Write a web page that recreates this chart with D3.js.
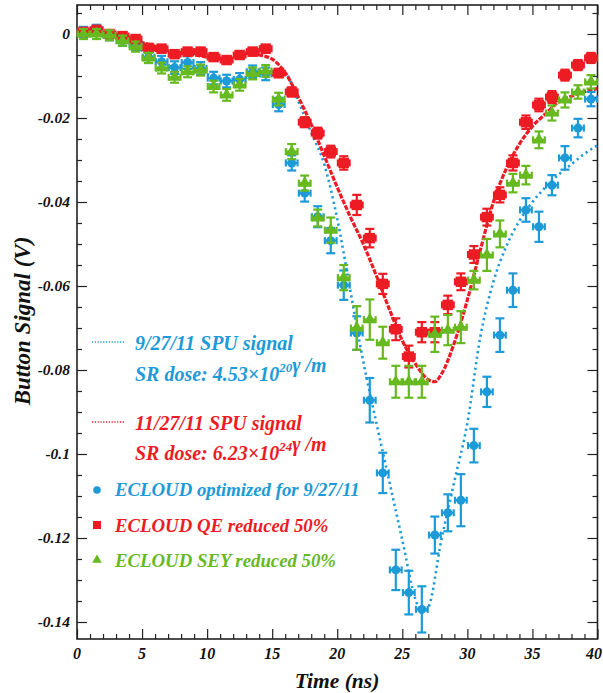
<!DOCTYPE html>
<html>
<head>
<meta charset="utf-8">
<script src="https://cdn.jsdelivr.net/npm/d3@7"></script>
<style>
  html, body { margin: 0; padding: 0; background: #fff; }
  svg { display: block; }
  text { font-family: "Liberation Serif", "Times New Roman", serif; font-style: italic; font-weight: bold; }
</style>
</head>
<body>
<svg id="chart" width="603" height="693"></svg>
<script>
// Sample times (ns) of the ECLOUD simulation points
const simTimes = [0.5, 1.5, 2.5, 3.5, 4.5, 5.5, 6.5, 7.5, 8.5, 9.5,
  10.5, 11.5, 12.5, 13.5, 14.5, 15.5, 16.5, 17.5, 18.5, 19.5,
  20.5, 21.5, 22.5, 23.5, 24.5, 25.5, 26.5, 27.5, 28.5, 29.5,
  30.5, 31.5, 32.5, 33.5, 34.5, 35.5, 36.5, 37.5, 38.5, 39.5];

// ECLOUD optimized for 9/27/11 (V) and its uncertainty
const ecloudOpt = [0.0005, 0.0010, -0.0003, -0.0015, -0.0025, -0.0055, -0.0066, -0.0080, -0.0068, -0.0082,
  -0.0105, -0.0112, -0.0108, -0.0090, -0.0095, -0.0168, -0.0307, -0.0379, -0.0435, -0.0492,
  -0.0598, -0.0712, -0.0872, -0.1045, -0.1276, -0.1330, -0.1370, -0.1193, -0.1140, -0.1110,
  -0.0980, -0.0852, -0.0717, -0.0610, -0.0419, -0.0459, -0.0360, -0.0295, -0.0224, -0.0155];
const ecloudOptErr = [0.0012, 0.0012, 0.0012, 0.0013, 0.0013, 0.0014, 0.0014, 0.0015, 0.0015, 0.0015,
  0.0015, 0.0015, 0.0015, 0.0015, 0.0015, 0.0016, 0.0018, 0.0020, 0.0025, 0.0030,
  0.0035, 0.0040, 0.0053, 0.0048, 0.0048, 0.0052, 0.0055, 0.0044, 0.0044, 0.0062,
  0.0040, 0.0036, 0.0040, 0.0040, 0.0028, 0.0036, 0.0024, 0.0028, 0.0022, 0.0017];

// ECLOUD with QE reduced 50%
const ecloudQE = [0.0005, 0.0010, 0.0000, -0.0005, -0.0012, -0.0033, -0.0035, -0.0048, -0.0042, -0.0042,
  -0.0055, -0.0062, -0.0050, -0.0042, -0.0035, -0.0093, -0.0138, -0.0210, -0.0236, -0.0280,
  -0.0307, -0.0407, -0.0486, -0.0595, -0.0703, -0.0768, -0.0710, -0.0710, -0.0645, -0.0590,
  -0.0525, -0.0436, -0.0383, -0.0307, -0.0210, -0.0169, -0.0150, -0.0098, -0.0074, -0.0057];
const ecloudQEErr = [0.0009, 0.0009, 0.0009, 0.0009, 0.0009, 0.0009, 0.0009, 0.0009, 0.0009, 0.0009,
  0.0009, 0.0009, 0.0009, 0.0009, 0.0009, 0.0010, 0.0011, 0.0012, 0.0013, 0.0014,
  0.0016, 0.0024, 0.0022, 0.0024, 0.0026, 0.0026, 0.0024, 0.0024, 0.0022, 0.0020,
  0.0020, 0.0020, 0.0018, 0.0018, 0.0016, 0.0015, 0.0014, 0.0013, 0.0012, 0.0012];

// ECLOUD with SEY reduced 50%
const ecloudSEY = [0.0000, 0.0000, -0.0003, -0.0016, -0.0030, -0.0057, -0.0081, -0.0103, -0.0090, -0.0086,
  -0.0125, -0.0145, -0.0121, -0.0094, -0.0088, -0.0155, -0.0280, -0.0355, -0.0438, -0.0467,
  -0.0580, -0.0700, -0.0680, -0.0735, -0.0828, -0.0828, -0.0828, -0.0715, -0.0705, -0.0698,
  -0.0586, -0.0526, -0.0476, -0.0355, -0.0336, -0.0252, -0.0188, -0.0157, -0.0138, -0.0114];
const ecloudSEYErr = [0.0012, 0.0012, 0.0012, 0.0012, 0.0012, 0.0012, 0.0013, 0.0013, 0.0013, 0.0013,
  0.0014, 0.0014, 0.0014, 0.0014, 0.0014, 0.0015, 0.0018, 0.0018, 0.0020, 0.0030,
  0.0030, 0.0052, 0.0048, 0.0038, 0.0038, 0.0038, 0.0038, 0.0042, 0.0036, 0.0038,
  0.0022, 0.0038, 0.0032, 0.0022, 0.0022, 0.0020, 0.0018, 0.0018, 0.0016, 0.0016];

// Measured SPU signal, 9/27/11
const spu0927Time = [0, 1, 2, 3, 4, 5, 6, 7, 8, 9, 10, 11, 12, 13, 14, 15, 16, 17, 18, 19, 20,
  21, 22, 23, 24, 25, 26, 26.5, 27, 28, 29, 30, 31, 32, 33, 34, 35, 36, 37, 38, 39, 40];
const spu0927 = [0, 0.0005, 0, -0.001, -0.002, -0.004, -0.006, -0.0075, -0.008, -0.008, -0.0095,
  -0.0105, -0.011, -0.0105, -0.009, -0.0092, -0.0095, -0.016, -0.0235, -0.031, -0.044,
  -0.061, -0.078, -0.0925, -0.1065, -0.1205, -0.1345, -0.1378, -0.1365, -0.1205, -0.1065,
  -0.0926, -0.072, -0.059, -0.0505, -0.0445, -0.040, -0.0365, -0.0335, -0.031, -0.0285, -0.0265];

// Measured SPU signal, 11/27/11
const spu1127Time = [0, 1, 2, 3, 4, 5, 6, 7, 8, 9, 10, 11, 12, 13, 14, 15, 16, 17, 18, 19, 20,
  21, 22, 23, 24, 25, 26, 27, 27.5, 28, 29, 30, 31, 32, 33, 34, 35, 36, 37, 38, 39, 40];
const spu1127 = [0, 0.0005, 0, -0.0005, -0.001, -0.002, -0.003, -0.004, -0.0045, -0.005, -0.0055,
  -0.006, -0.0055, -0.0045, -0.005, -0.006, -0.0092, -0.015, -0.0215, -0.029, -0.0365,
  -0.0435, -0.050, -0.0575, -0.0655, -0.073, -0.0785, -0.0823, -0.0828, -0.081, -0.0735,
  -0.0633, -0.0514, -0.040, -0.032, -0.0262, -0.022, -0.019, -0.0162, -0.0148, -0.0137, -0.013];

// Axis ticks
const xTicks = [0, 5, 10, 15, 20, 25, 30, 35, 40];
const xMinorTicks = [1, 2, 3, 4, 6, 7, 8, 9, 11, 12, 13, 14, 16, 17, 18, 19, 21, 22, 23, 24,
  26, 27, 28, 29, 31, 32, 33, 34, 36, 37, 38, 39];
const yTicks = [0, -0.02, -0.04, -0.06, -0.08, -0.1, -0.12, -0.14];
const yMinorTicks = [0.005, -0.005, -0.01, -0.015, -0.025, -0.03, -0.035, -0.045, -0.05, -0.055,
  -0.065, -0.07, -0.075, -0.085, -0.09, -0.095, -0.105, -0.11, -0.115, -0.125, -0.13, -0.135];

const BLUE = "#1d9ad8", RED = "#ec1b24", GREEN = "#66b91f";

const svg = d3.select("#chart");
const frame = { left: 77, right: 597.5, top: 5, bottom: 639 };

const x = d3.scaleLinear().domain([0, 40]).range([77, 597.5]);
const y = d3.scaleLinear().domain([0, -0.14]).range([34, 622]);

// Frame and axes (ticks point inward on all four sides)
function drawAxis(axisGen, transform, ticks, size) {
  const g = svg.append("g").attr("transform", transform)
    .call(axisGen.tickValues(ticks).tickSizeInner(size).tickSizeOuter(0).tickFormat(""));
  g.select(".domain").remove();
  g.selectAll(".tick line").attr("stroke", "#222").attr("stroke-width", 1.2);
  g.selectAll(".tick text").remove();
  return g;
}
drawAxis(d3.axisLeft(y), `translate(${frame.left},0)`, yTicks, -10);
drawAxis(d3.axisLeft(y), `translate(${frame.left},0)`, yMinorTicks, -5);
drawAxis(d3.axisRight(y), `translate(${frame.right},0)`, yTicks, -10);
drawAxis(d3.axisRight(y), `translate(${frame.right},0)`, yMinorTicks, -5);
drawAxis(d3.axisBottom(x), `translate(0,${frame.bottom})`, xTicks, -10);
drawAxis(d3.axisBottom(x), `translate(0,${frame.bottom})`, xMinorTicks, -5);
drawAxis(d3.axisTop(x), `translate(0,${frame.top})`, xTicks, -10);
drawAxis(d3.axisTop(x), `translate(0,${frame.top})`, xMinorTicks, -5);

svg.append("rect")
  .attr("x", frame.left).attr("y", frame.top)
  .attr("width", frame.right - frame.left).attr("height", frame.bottom - frame.top)
  .attr("fill", "none").attr("stroke", "#222").attr("stroke-width", 1.6);

// Tick labels
svg.append("g").selectAll("text").data(yTicks).join("text")
  .attr("x", 70).attr("y", d => y(d)).attr("dy", "0.35em")
  .attr("text-anchor", "end").attr("font-size", 15.5).attr("fill", "#111")
  .text(d => String(d));
svg.append("g").selectAll("text").data(xTicks).join("text")
  .attr("x", d => d === 40 ? 602 : x(d)).attr("y", 659)
  .attr("text-anchor", d => d === 40 ? "end" : "middle").attr("font-size", 16).attr("fill", "#111")
  .text(d => String(d));

// Axis titles
svg.append("text").attr("transform", "translate(30,321) rotate(-90)")
  .attr("text-anchor", "middle").attr("font-size", 23).attr("fill", "#111")
  .text("Button Signal (V)");
svg.append("text").attr("x", 337).attr("y", 688)
  .attr("text-anchor", "middle").attr("font-size", 21.5).attr("fill", "#111")
  .text("Time (ns)");

// Measured signals
const line = (tt) => d3.line().x((d, i) => x(tt[i])).y(d => y(d)).curve(d3.curveMonotoneX);
svg.append("path").datum(spu0927).attr("d", line(spu0927Time))
  .attr("fill", "none").attr("stroke", BLUE).attr("stroke-width", 2.6)
  .attr("stroke-dasharray", "2.2,3.4").attr("stroke-linecap", "butt");
svg.append("path").datum(spu1127).attr("d", line(spu1127Time))
  .attr("fill", "none").attr("stroke", RED).attr("stroke-width", 3.2)
  .attr("stroke-dasharray", "5,1.4");

// Simulation points with error bars
function drawSeries(vals, errs, color, shape, size) {
  const data = vals.map((v, i) => ({ t: simTimes[i], v, e: errs[i] }));
  const g = svg.append("g").attr("stroke", color).attr("fill", color);
  const pts = g.selectAll("g").data(data).join("g");
  const hx = 0.45, cap = 4.5, hcap = 3.5, sw = 2.2;
  pts.append("line").attr("x1", d => x(d.t)).attr("x2", d => x(d.t))
    .attr("y1", d => y(d.v + d.e)).attr("y2", d => y(d.v - d.e)).attr("stroke-width", sw);
  pts.append("line").attr("x1", d => x(d.t) - cap).attr("x2", d => x(d.t) + cap)
    .attr("y1", d => y(d.v + d.e)).attr("y2", d => y(d.v + d.e)).attr("stroke-width", sw);
  pts.append("line").attr("x1", d => x(d.t) - cap).attr("x2", d => x(d.t) + cap)
    .attr("y1", d => y(d.v - d.e)).attr("y2", d => y(d.v - d.e)).attr("stroke-width", sw);
  pts.append("line").attr("x1", d => x(d.t - hx)).attr("x2", d => x(d.t + hx))
    .attr("y1", d => y(d.v)).attr("y2", d => y(d.v)).attr("stroke-width", sw);
  pts.append("line").attr("x1", d => x(d.t - hx)).attr("x2", d => x(d.t - hx))
    .attr("y1", d => y(d.v) - hcap).attr("y2", d => y(d.v) + hcap).attr("stroke-width", sw);
  pts.append("line").attr("x1", d => x(d.t + hx)).attr("x2", d => x(d.t + hx))
    .attr("y1", d => y(d.v) - hcap).attr("y2", d => y(d.v) + hcap).attr("stroke-width", sw);
  const sym = d3.symbol().type(shape).size(size);
  pts.append("path").attr("transform", d => `translate(${x(d.t)},${y(d.v)})`)
    .attr("d", sym()).attr("stroke", "none");
}
drawSeries(ecloudOpt, ecloudOptErr, BLUE, d3.symbolCircle, 64);
drawSeries(ecloudQE, ecloudQEErr, RED, d3.symbolSquare, 110);
drawSeries(ecloudSEY, ecloudSEYErr, GREEN, d3.symbolTriangle, 66);

// Legend
const leg = svg.append("g");
leg.append("line").attr("x1", 92).attr("x2", 125).attr("y1", 342).attr("y2", 342)
  .attr("stroke", BLUE).attr("stroke-width", 1.3).attr("stroke-dasharray", "1.2,1.6");
leg.append("line").attr("x1", 92).attr("x2", 125).attr("y1", 422).attr("y2", 422)
  .attr("stroke", RED).attr("stroke-width", 1.3).attr("stroke-dasharray", "1.2,1.6");

function legText(xp, yp, color, size, parts) {
  const t = leg.append("text").attr("x", xp).attr("y", yp).attr("font-size", size).attr("fill", color);
  parts.forEach(p => {
    if (typeof p === "object") {
      t.append("tspan").attr("dy", -9).attr("font-size", 13).text(p.superscript);
      t.append("tspan").attr("dy", 9).text("");
    } else {
      t.append("tspan").text(p);
    }
  });
}
legText(135, 350, BLUE, 20, ["9/27/11 SPU signal"]);
legText(135, 381, BLUE, 20, ["SR dose: 4.53×10", { superscript: "20" }, "γ /m"]);
legText(135, 430, RED, 20, ["11/27/11 SPU signal"]);
legText(135, 460, RED, 20, ["SR dose: 6.23×10", { superscript: "24" }, "γ /m"]);
legText(115, 496, BLUE, 18.8, ["ECLOUD optimized for 9/27/11"]);
legText(115, 532, RED, 18.8, ["ECLOUD QE reduced 50%"]);
legText(115, 567, GREEN, 18.8, ["ECLOUD SEY reduced 50%"]);

leg.append("circle").attr("cx", 97).attr("cy", 490).attr("r", 3.8).attr("fill", BLUE);
leg.append("rect").attr("x", 93).attr("y", 521).attr("width", 8).attr("height", 8).attr("fill", RED);
leg.append("path").attr("transform", "translate(97,560)")
  .attr("d", d3.symbol().type(d3.symbolTriangle).size(40)()).attr("fill", GREEN);
</script>
</body>
</html>
